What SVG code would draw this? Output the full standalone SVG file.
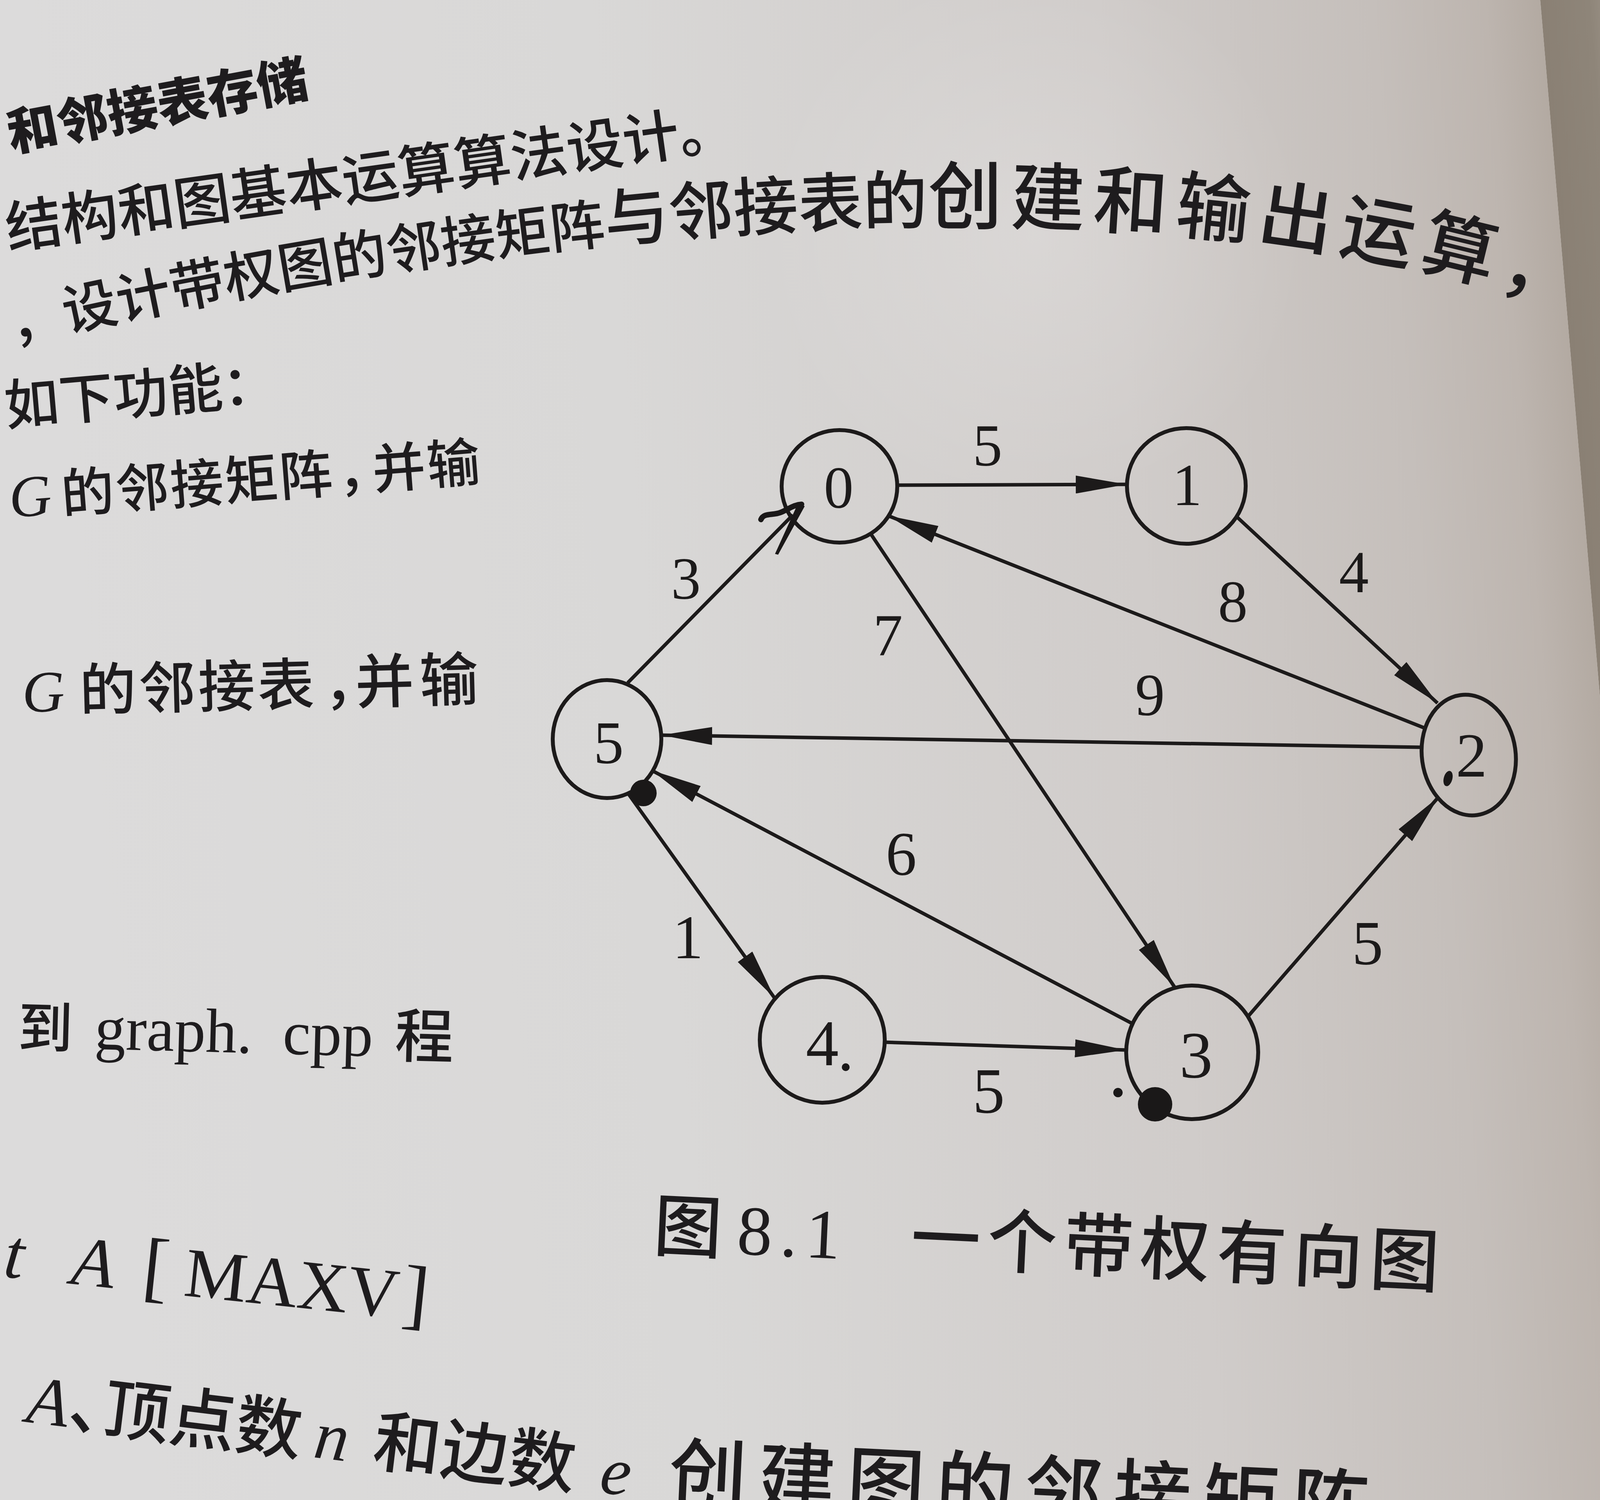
<svg xmlns="http://www.w3.org/2000/svg" width="5120" height="3840" viewBox="0 0 5120 3840">
<defs>
<style>
.cjk{font-family:"Noto Sans CJK SC","Noto Sans CJK JP",sans-serif;fill:#1e1c1e;font-weight:500}
.ser{font-family:"Liberation Serif","DejaVu Serif",serif;fill:#1e1c1e}
.node{fill:none;stroke:#1c1a1a;stroke-width:10}
.edge line{stroke:#1c1a1a;stroke-width:9;fill:none}
.lab{font-family:"Liberation Serif","DejaVu Serif",serif;fill:#1c1a1a;text-anchor:middle}
.ink{fill:#1a1818}
</style>
<linearGradient id="pageG" gradientUnits="userSpaceOnUse" x1="0" y1="0" x2="3943" y2="0" gradientTransform="skewX(4.9)">
<stop offset="0" stop-color="#dcdbdb"/>
<stop offset="0.38" stop-color="#d9d8d7"/>
<stop offset="0.71" stop-color="#d0ccca"/>
<stop offset="0.89" stop-color="#c5bfbb"/>
<stop offset="0.964" stop-color="#bdb5af"/>
<stop offset="1" stop-color="#b3aaa2"/>
</linearGradient>
<linearGradient id="bandG" gradientUnits="userSpaceOnUse" x1="3943" y1="0" x2="4566" y2="0" gradientTransform="skewX(4.9)">
<stop offset="0" stop-color="#8a8074"/>
<stop offset="0.2" stop-color="#8e8579"/>
<stop offset="0.38" stop-color="#a89f94"/>
<stop offset="0.5" stop-color="#cdc9c2"/>
<stop offset="0.6" stop-color="#dddbd7"/>
<stop offset="1" stop-color="#e4e3e1"/>
</linearGradient>
<radialGradient id="glow" cx="2650" cy="600" r="700" gradientUnits="userSpaceOnUse">
<stop offset="0" stop-color="#ffffff" stop-opacity="0.18"/>
<stop offset="1" stop-color="#ffffff" stop-opacity="0"/>
</radialGradient>
<marker id="ah" markerUnits="userSpaceOnUse" markerWidth="132" markerHeight="46" refX="130" refY="23" orient="auto" viewBox="0 0 132 46">
<path d="M0,0 L130,23 L0,46 Z" fill="#1c1a1a"/>
</marker>
<path id="lineC" d="M 35,880 C 1300,590 2900,400 4050,800"/>
</defs>

<!-- background: page, page edge shadow, next page strip, backdrop -->
<g id="background">
<polygon points="0,0 3943,0 4272,3840 0,3840" fill="url(#pageG)"/>
<ellipse cx="2650" cy="600" rx="700" ry="650" fill="url(#glow)"/>
<polygon points="3943,0 4566,0 5063,3840 4272,3840" fill="url(#bandG)"/>
<polygon points="4566,0 5120,0 5120,3840 5063,3840" fill="#a9a7aa"/>
</g>

<!-- page text -->
<g id="page-text">
<text class="cjk" style="font-weight:900" font-size="130" x="28" y="388" transform="rotate(-10.5 28 388)">和邻接表存储</text>
<text class="cjk" font-size="145" x="22" y="637" transform="rotate(-8 22 637)">结构和图基本运算算法设计。</text>
<text class="cjk"><textPath href="#lineC"><tspan font-size="140">，设计带权图的邻接矩阵</tspan><tspan font-size="165">与邻接表的</tspan><tspan font-size="190" letter-spacing="20">创建和输出运算，</tspan></textPath></text>
<text class="cjk" font-size="140" x="16" y="1089" transform="rotate(-5 16 1089)">如下功能：</text>
<text transform="rotate(-4.5 27 1325)" y="1325"><tspan class="ser" font-style="italic" font-size="150" x="27" y="1325">G</tspan><tspan class="cjk" font-size="136" letter-spacing="4" x="161">的邻接矩阵</tspan><tspan class="cjk" font-size="136" x="870">，</tspan><tspan class="cjk" font-size="136" letter-spacing="4" x="960">并输</tspan></text>
<text transform="rotate(-1.5 58 1823)" y="1823"><tspan class="ser" font-style="italic" font-size="150" x="58" y="1823">G</tspan><tspan class="cjk" font-size="145" letter-spacing="7" x="205">的邻接表</tspan><tspan class="cjk" font-size="145" x="830">，</tspan><tspan class="cjk" font-size="150" letter-spacing="15" x="911">并输</tspan></text>
<text transform="rotate(1.5 45 2680)" y="2680"><tspan class="cjk" font-size="140" x="45" y="2680">到</tspan><tspan class="ser" font-size="160" x="241">graph.</tspan><tspan class="ser" font-size="160" x="723">cpp</tspan><tspan class="cjk" font-size="150" x="1010">程</tspan></text>
<text class="ser" font-size="180" transform="rotate(6 6 3268)" y="3268"><tspan font-style="italic" x="6" y="3268">t</tspan><tspan font-style="italic" x="180">A</tspan><tspan x="362" font-size="200">[</tspan><tspan x="470">MAXV</tspan><tspan x="1030" font-size="200">]</tspan></text>
<text transform="rotate(2.7 1671 3200)" y="3200"><tspan class="cjk" font-size="175" x="1671" y="3200">图</tspan><tspan class="ser" font-size="180" letter-spacing="20" x="1885">8.1</tspan><tspan class="cjk" font-size="178" letter-spacing="18" x="2330">一个带权有向图</tspan></text>
<text transform="rotate(7 64 3640)" y="3640"><tspan class="ser" font-style="italic" font-size="175" x="64" y="3640">A</tspan><tspan class="cjk" font-size="170">、</tspan><tspan class="cjk" font-size="170" dx="-80">顶点数</tspan><tspan class="ser" font-style="italic" font-size="175" x="805">n</tspan><tspan class="cjk" font-size="172" letter-spacing="2" x="957">和边数</tspan><tspan class="ser" font-style="italic" font-size="175" x="1543">e</tspan></text>
<text class="cjk" font-size="200" letter-spacing="28" x="1709" y="3845" transform="rotate(2.7 1709 3845)">创建图的邻接矩阵</text>
</g>

<!-- connectors -->
<g id="connectors" class="edge">
<line id="e0-1" x1="2298" y1="1242" x2="2884" y2="1240" marker-end="url(#ah)"/>
<line id="e1-2" x1="3165" y1="1322" x2="3680" y2="1800" marker-end="url(#ah)"/>
<line id="e2-0" x1="3645" y1="1863" x2="2273" y2="1320" marker-end="url(#ah)"/>
<line id="e2-5" x1="3638" y1="1913" x2="1693" y2="1882" marker-end="url(#ah)"/>
<line id="e5-0" x1="1607" y1="1748" x2="2030" y2="1318"/>
<line id="e0-3" x1="2230" y1="1368" x2="3007" y2="2527" marker-end="url(#ah)"/>
<line id="e3-5" x1="2898" y1="2620" x2="1668" y2="1972" marker-end="url(#ah)"/>
<line id="e5-4" x1="1607" y1="2030" x2="1983" y2="2555" marker-end="url(#ah)"/>
<line id="e4-3" x1="2265" y1="2668" x2="2882" y2="2688" marker-end="url(#ah)"/>
<line id="e3-2" x1="3195" y1="2602" x2="3683" y2="2040" marker-end="url(#ah)"/>
</g>

<!-- edge weights -->
<g id="weights">
<text class="lab" font-size="152" x="2528" y="1192">5</text>
<text class="lab" font-size="152" x="3466" y="1516">4</text>
<text class="lab" font-size="152" x="3156" y="1592">8</text>
<text class="lab" font-size="152" x="2944" y="1831">9</text>
<text class="lab" font-size="152" x="1756" y="1533">3</text>
<text class="lab" font-size="152" x="2273" y="1678">7</text>
<text class="lab" font-size="158" x="2307" y="2239">6</text>
<text class="lab" font-size="158" x="1761" y="2453">1</text>
<text class="lab" font-size="165" x="2531" y="2848">5</text>
<text class="lab" font-size="160" x="3501" y="2468">5</text>
</g>

<!-- nodes -->
<g id="node0"><ellipse class="node" cx="2149" cy="1245" rx="148" ry="144"/><text class="lab" font-size="152" x="2147" y="1300">0</text></g>
<g id="node1"><ellipse class="node" cx="3037" cy="1244" rx="152" ry="148"/><text class="lab" font-size="152" x="3039" y="1293">1</text></g>
<g id="node2"><ellipse class="node" cx="3760" cy="1933" rx="120" ry="155" transform="rotate(-8 3760 1933)"/><text class="lab" font-size="160" x="3767" y="1988">2</text></g>
<g id="node3"><ellipse class="node" cx="3052" cy="2694" rx="169" ry="171"/><text class="lab" font-size="170" x="3062" y="2758">3</text></g>
<g id="node4"><ellipse class="node" cx="2105" cy="2662" rx="160" ry="161"/><text class="lab" font-size="168" x="2105" y="2727">4</text></g>
<g id="node5"><ellipse class="node" cx="1554" cy="1892" rx="139" ry="151"/><text class="lab" font-size="155" x="1558" y="1953">5</text></g>

<!-- ink marks on the page -->
<g id="marks">
<path d="M1948,1330 C1955,1312 1978,1320 1998,1312 C2018,1304 2032,1292 2052,1291" fill="none" stroke="#1a1818" stroke-width="14" stroke-linecap="round"/>
<path d="M2044,1286 L2060,1296 L1992,1420 L1984,1418 Z" class="ink"/>
<circle class="ink" cx="1647" cy="2030" r="34"/>
<circle class="ink" cx="2957" cy="2827" r="44"/>
<circle class="ink" cx="2862" cy="2797" r="12"/>
<circle class="ink" cx="2165" cy="2732" r="10"/>
<ellipse class="ink" cx="3707" cy="1993" rx="11" ry="20" transform="rotate(15 3707 1993)"/>
</g>
</svg>
